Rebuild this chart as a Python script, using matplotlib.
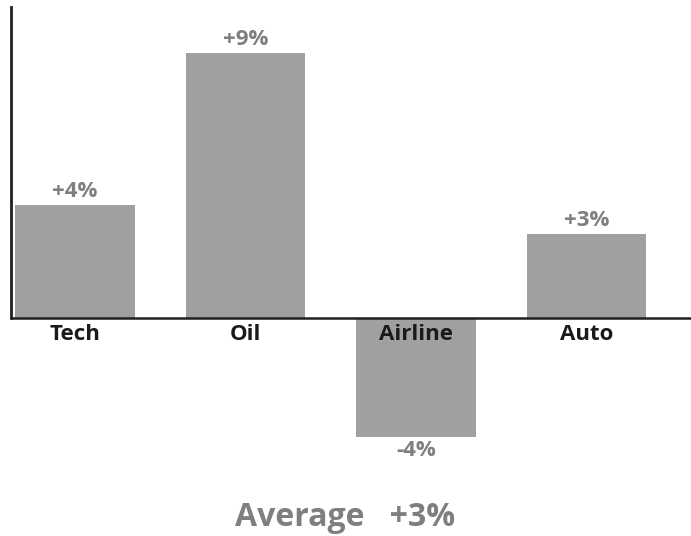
import matplotlib.pyplot as plt

plt.rcParams['font.family'] = ['Open Sans', 'DejaVu Sans']

categories = ['Tech', 'Oil', 'Airline', 'Auto']
values = [3.84, 9.0, -4.04, 2.85]
value_labels = ['+4%', '+9%', '-4%', '+3%']
average_label = 'Average   +3%'

fig = plt.figure(figsize=(6.91, 5.36), dpi=100)
# axes spans from the top of the left spine down to just below the lowest bar
ax = fig.add_axes([11 / 691, 1 - 440 / 536, 1 - 11 / 691, (440 - 7) / 536])

x = range(len(categories))
ax.bar(x, values, width=0.7, color='#a0a0a0', zorder=1)

ax.set_xlim(-0.375, 3.613)
ax.set_ylim(-4.14, 10.56)

# axis lines: left spine only above zero, zero line across
for s in ['top', 'right', 'bottom']:
    ax.spines[s].set_visible(False)
ax.spines['left'].set_bounds(0, 10.56)
ax.spines['left'].set_linewidth(2)
ax.spines['left'].set_color('#202020')
ax.axhline(0, color='#202020', lw=1.8, zorder=2)
ax.set_xticks([])
ax.set_yticks([])

for i, (v, lab) in enumerate(zip(values, value_labels)):
    if v >= 0:
        ax.annotate(lab, (i, v), xytext=(0, 2), textcoords='offset points',
                    ha='center', va='bottom', fontsize=16, fontweight='bold',
                    color='#7f7f7f')
    else:
        ax.annotate(lab, (i, v), xytext=(0, -2), textcoords='offset points',
                    ha='center', va='top', fontsize=16, fontweight='bold',
                    color='#7f7f7f')

# category labels sit just under the zero line
for i, c in enumerate(categories):
    ax.annotate(c, (i, 0), xytext=(0, -4), textcoords='offset points',
                ha='center', va='top', fontsize=16, fontweight='bold',
                color='#1a1a1a', zorder=3)

fig.text(345 / 691, 1 - 518 / 536, average_label, ha='center', va='center',
         fontsize=23, fontweight='bold', color='#7f7f7f')

fig.savefig('out.png', dpi=100)
